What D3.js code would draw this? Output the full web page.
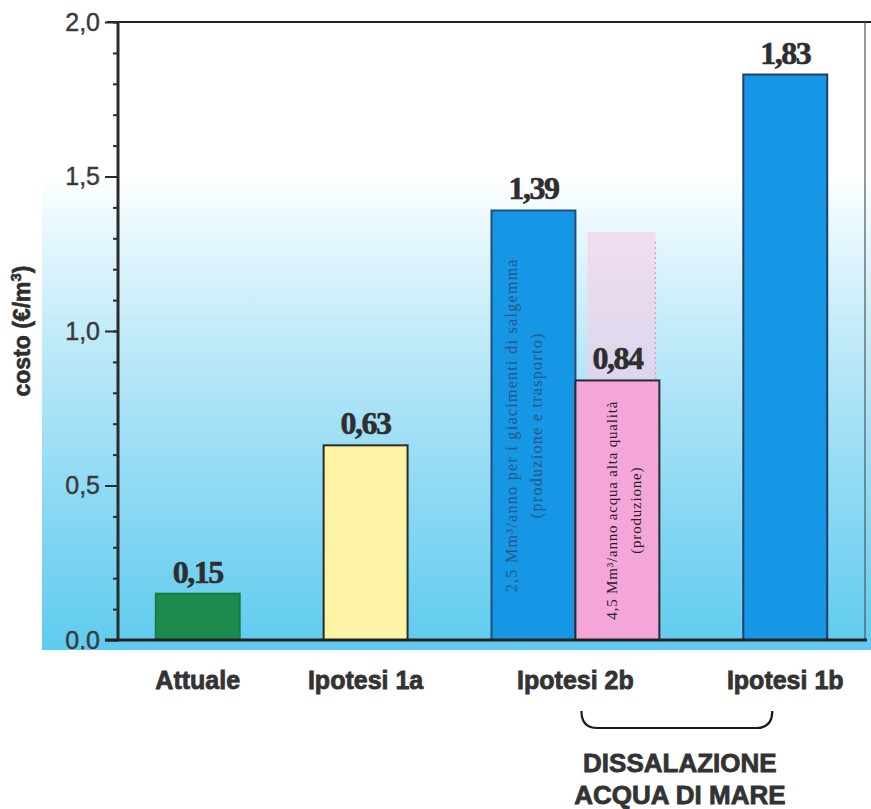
<!DOCTYPE html>
<html>
<head>
<meta charset="utf-8">
<script src="https://d3js.org/d3.v7.min.js"></script>
<style>
  html, body { margin: 0; padding: 0; background: #fff; }
  svg { display: block; }
</style>
</head>
<body>
<div id="chart"></div>
<script>
// dati
const slots = ["Attuale", "gap1", "Ipotesi 1a", "gap2", "2b-salgemma", "2b-acqua", "gap3", "Ipotesi 1b"];
const barSlots = ["Attuale", "Ipotesi 1a", "2b-salgemma", "2b-acqua", "Ipotesi 1b"];
const barValues = [0.15, 0.63, 1.39, 0.84, 1.83];
const barLabels = ["0,15", "0,63", "1,39", "0,84", "1,83"];
const barColors = ["#1b8a4c", "#fdf3a4", "#1597e5", "#f4a6d8", "#1597e5"];
const barStrokes = ["#1b7a44", "#2b2b2b", "#1f4f7a", "#2b2b2b", "#1f3f66"];
const categoryLabels = ["Attuale", "Ipotesi 1a", "Ipotesi 2b", "Ipotesi 1b"];
const categoryCenters = [["Attuale"], ["Ipotesi 1a"], ["2b-salgemma", "2b-acqua"], ["Ipotesi 1b"]];
const majorTicks = [0, 0.5, 1.0, 1.5, 2.0];
const tickLabels = ["0.0", "0,5", "1,0", "1,5", "2,0"];
const minorTicks = d3.range(0, 21).map(d => d / 10);
const ghostValue = 1.32; // traccia rosa sbiadita sopra la barra 0,84
const barNotes = [
  { slot: "2b-salgemma", lines: ["2,5 Mm³/anno per i giacimenti di salgemma", "(produzione e trasporto)"] },
  { slot: "2b-acqua", lines: ["4,5 Mm³/anno acqua alta qualità", "(produzione)"] }
];
const groupLabel = ["DISSALAZIONE", "ACQUA DI MARE"];

document.addEventListener('DOMContentLoaded', function () {
  const W = 871, H = 809;
  const left = 118, right = 865, top = 22, bottom = 640;

  const svg = d3.select("#chart").append("svg")
    .attr("width", W).attr("height", H);

  // sfondo sfumato bianco -> azzurro
  const defs = svg.append("defs");
  const grad = defs.append("linearGradient")
    .attr("id", "bg").attr("x1", 0).attr("y1", 0).attr("x2", 0).attr("y2", 1);
  [[0, "#ffffff"], [0.27, "#ffffff"], [0.36, "#e6f7fd"], [0.52, "#c0eaf8"], [0.75, "#8fdaf4"], [1, "#5fcbef"]]
    .forEach(s => grad.append("stop").attr("offset", s[0]).attr("stop-color", s[1]));

  svg.append("rect")
    .attr("x", 42).attr("y", 0).attr("width", W - 42).attr("height", bottom + 10)
    .attr("fill", "url(#bg)");

  const y = d3.scaleLinear().domain([0, 2]).range([bottom, top]);
  const x = d3.scaleBand().domain(slots).range([left, right])
    .paddingInner(0).paddingOuter(0.45);

  // cornice: linea superiore e destra
  svg.append("line")
    .attr("x1", left - 11).attr("x2", W).attr("y1", y(2)).attr("y2", y(2))
    .attr("stroke", "#222").attr("stroke-width", 2);
  svg.append("line")
    .attr("x1", right).attr("x2", right).attr("y1", y(2)).attr("y2", y(0))
    .attr("stroke", "#555").attr("stroke-width", 1.2);

  // traccia rosa sbiadita
  const ghostX = x("2b-acqua");
  svg.append("rect")
    .attr("x", ghostX + 12).attr("y", y(ghostValue))
    .attr("width", x.bandwidth() - 16).attr("height", y(barValues[3]) - y(ghostValue))
    .attr("fill", "#f7cde6").attr("opacity", 0.6);
  svg.append("line")
    .attr("x1", ghostX + x.bandwidth() - 4).attr("x2", ghostX + x.bandwidth() - 4)
    .attr("y1", y(ghostValue) + 10).attr("y2", y(barValues[3]))
    .attr("stroke", "#e59cc8").attr("stroke-width", 1.5).attr("stroke-dasharray", "2,3");

  // barre
  svg.selectAll(".bar")
    .data(barValues)
    .enter().append("rect")
    .attr("class", "bar")
    .attr("x", (d, i) => x(barSlots[i]))
    .attr("y", d => y(d))
    .attr("width", x.bandwidth())
    .attr("height", d => y(0) - y(d))
    .attr("fill", (d, i) => barColors[i])
    .attr("stroke", (d, i) => barStrokes[i])
    .attr("stroke-width", 2);

  // etichette valori
  svg.selectAll(".val")
    .data(barValues)
    .enter().append("text")
    .attr("class", "val")
    .attr("x", (d, i) => x(barSlots[i]) + x.bandwidth() / 2)
    .attr("y", d => y(d) - 11)
    .attr("text-anchor", "middle")
    .style("font-family", "'Liberation Serif', 'DejaVu Serif', serif")
    .style("font-weight", "bold")
    .style("font-size", "32px")
    .style("letter-spacing", "-1.5px")
    .attr("fill", "#2e2e2e")
    .attr("stroke", "#2e2e2e").attr("stroke-width", 0.6)
    .text((d, i) => barLabels[i]);

  // testi verticali dentro le barre
  const noteStyle = {
    "2b-salgemma": { dx: [-22, 3], size: 16, spacing: 1.3, color: "#2a5584" },
    "2b-acqua": { dx: [-6, 18], size: 15, spacing: 0.8, color: "#2a1a28" }
  };
  barNotes.forEach(n => {
    const v = barValues[barSlots.indexOf(n.slot)];
    const cx = x(n.slot) + x.bandwidth() / 2;
    const cy = (y(0) + y(v)) / 2;
    const st = noteStyle[n.slot];
    n.lines.forEach((line, k) => {
      svg.append("text")
        .attr("transform", `translate(${cx + st.dx[k]},${cy}) rotate(-90)`)
        .attr("text-anchor", "middle")
        .attr("dy", "0.35em")
        .style("font-family", "'Liberation Serif', 'DejaVu Serif', serif")
        .style("font-size", st.size + "px")
        .style("letter-spacing", st.spacing + "px")
        .attr("fill", st.color)
        .text(line);
    });
  });

  // asse y: tacche maggiori e minori
  const axisFont = "'Liberation Sans', Arial, sans-serif";
  const minor = svg.append("g")
    .attr("transform", `translate(${left},0)`)
    .call(d3.axisLeft(y).tickValues(minorTicks).tickSize(5).tickFormat(""));
  minor.select(".domain").remove();
  minor.selectAll("line").attr("stroke", "#2b2b2b").attr("stroke-width", 2);

  const major = svg.append("g")
    .attr("transform", `translate(${left},0)`)
    .call(d3.axisLeft(y).tickValues(majorTicks).tickSize(13).tickPadding(5)
      .tickFormat((d, i) => tickLabels[i]));
  major.select(".domain").attr("stroke", "#2b2b2b").attr("stroke-width", 3)
    .attr("d", `M0,${y(2)}V${y(0)}`);
  major.selectAll("line").attr("stroke", "#2b2b2b").attr("stroke-width", 2);
  major.selectAll("text")
    .style("font-family", axisFont)
    .style("font-size", "25px")
    .attr("fill", "#3a3a3a")
    .attr("stroke", "#3a3a3a").attr("stroke-width", 0.4);

  // linea di base
  svg.append("line")
    .attr("x1", left - 13).attr("x2", right + 2).attr("y1", y(0)).attr("y2", y(0))
    .attr("stroke", "#222").attr("stroke-width", 3);

  // titolo asse y
  const yt = svg.append("text")
    .attr("transform", `translate(30,${(y(0) + y(2)) / 2}) rotate(-90)`)
    .attr("text-anchor", "middle")
    .style("font-family", axisFont)
    .style("font-weight", "bold")
    .style("font-size", "23px")
    .attr("fill", "#2e2e2e")
    .attr("stroke", "#2e2e2e").attr("stroke-width", 0.6);
  yt.append("tspan").text("costo (€/m");
  yt.append("tspan").attr("dy", -9).style("font-size", "15px").text("3");
  yt.append("tspan").attr("dy", 9).text(")");

  // etichette categorie
  svg.selectAll(".cat")
    .data(categoryLabels)
    .enter().append("text")
    .attr("class", "cat")
    .attr("x", (d, i) => {
      const s = categoryCenters[i];
      return (x(s[0]) + x(s[s.length - 1]) + x.bandwidth()) / 2;
    })
    .attr("y", 689)
    .attr("text-anchor", "middle")
    .style("font-family", axisFont)
    .style("font-weight", "bold")
    .style("font-size", "25px")
    .attr("fill", "#333")
    .attr("stroke", "#333").attr("stroke-width", 0.8)
    .text(d => d);

  // parentesi graffa sotto Ipotesi 2b / 1b
  const bx0 = x("2b-salgemma") + x.bandwidth() + 6;
  const bx1 = x("Ipotesi 1b") + x.bandwidth() / 2 - 13;
  const by = 711;
  svg.append("path")
    .attr("d", `M${bx0},${by} Q${bx0},${by + 17} ${bx0 + 16},${by + 17} L${bx1 - 16},${by + 17} Q${bx1},${by + 17} ${bx1},${by}`)
    .attr("fill", "none").attr("stroke", "#1a1a1a").attr("stroke-width", 2.2);

  svg.selectAll(".grp")
    .data(groupLabel)
    .enter().append("text")
    .attr("class", "grp")
    .attr("x", (bx0 + bx1) / 2 + 3)
    .attr("y", (d, i) => 772 + i * 32)
    .attr("text-anchor", "middle")
    .style("font-family", axisFont)
    .style("font-weight", "bold")
    .style("font-size", "26px")
    .attr("fill", "#333")
    .attr("stroke", "#333").attr("stroke-width", 0.8)
    .text(d => d);
});
</script>
</body>
</html>
